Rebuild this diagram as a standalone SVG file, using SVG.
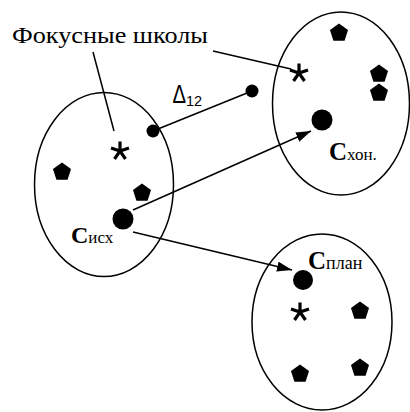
<svg xmlns="http://www.w3.org/2000/svg" xmlns:xlink="http://www.w3.org/1999/xlink" width="410" height="412" viewBox="0 0 410 412">
<style>
.ell{fill:none;stroke:#000;stroke-width:1.5}
.ln{fill:none;stroke:#000;stroke-width:1.5}
.serif{font-family:"Liberation Serif","Times New Roman",serif;fill:#000}
.sans{font-family:"Liberation Sans",Arial,sans-serif;fill:#000}
.star{fill:none;stroke:#000;stroke-width:3.2}
</style>
<defs>
<path id="pent" d="M0,-9.5 L9.04,-2.94 L5.58,7.69 L-5.58,7.69 L-9.04,-2.94 Z" fill="#000"/>
<path id="star" class="star" d="M0,-9.5 V0 M-9,-3 L0,0 L9,-3 M-5.5,8 L0,0 L5.5,8"/>
<marker id="arr" markerWidth="16" markerHeight="12" refX="15" refY="5" orient="auto" markerUnits="userSpaceOnUse">
<path d="M0,0 L15,5 L0,10 Z" fill="#000"/>
</marker>
</defs>
<rect width="410" height="412" fill="#fff"/>
<g id="set-left">
<ellipse class="ell" cx="104" cy="184.5" rx="69.5" ry="92"/>
<use xlink:href="#star" x="120" y="151"/>
<use xlink:href="#pent" x="62" y="172"/>
<use xlink:href="#pent" x="142" y="193"/>
<circle cx="123" cy="219" r="10.5" fill="#000"/>
<text class="serif" x="71" y="243" font-size="24" font-weight="bold">C<tspan font-size="17" font-weight="normal">исх</tspan></text>
</g>
<g id="set-top-right">
<ellipse class="ell" cx="341" cy="103.5" rx="68.5" ry="91.5"/>
<use xlink:href="#star" x="299" y="73"/>
<use xlink:href="#pent" x="339" y="33"/>
<use xlink:href="#pent" x="379" y="74"/>
<use xlink:href="#pent" x="379" y="93"/>
<circle cx="322" cy="120" r="10.5" fill="#000"/>
<text class="serif" x="329" y="160" font-size="25" font-weight="bold">C<tspan font-size="17" font-weight="normal">хон.</tspan></text>
</g>
<g id="set-bottom-right">
<ellipse class="ell" cx="322" cy="322" rx="70" ry="88"/>
<circle cx="303" cy="280" r="10" fill="#000"/>
<text class="serif" x="308" y="269" font-size="25" font-weight="bold">C<tspan font-size="18" font-weight="normal">план</tspan></text>
<use xlink:href="#star" x="300" y="312"/>
<use xlink:href="#pent" x="360" y="311"/>
<use xlink:href="#pent" x="300" y="374"/>
<use xlink:href="#pent" x="360" y="368"/>
</g>
<g id="label-focus">
<text class="serif" x="12" y="43" font-size="23" textLength="196" lengthAdjust="spacingAndGlyphs">Фокусные школы</text>
</g>
<g id="label-delta">
<text class="sans" font-size="26" transform="translate(172.5,103) scale(0.78,1)">Δ</text>
<text class="sans" x="186" y="106" font-size="14.5">12</text>
</g>
<g id="connectors">
<line class="ln" x1="93" y1="52" x2="114" y2="131"/>
<line class="ln" x1="213" y1="51" x2="291" y2="69"/>
<circle cx="153" cy="131" r="6.5" fill="#000"/>
<circle cx="252" cy="91" r="6.5" fill="#000"/>
<line class="ln" x1="153" y1="131" x2="252" y2="91"/>
<line class="ln" x1="133" y1="210" x2="311" y2="131" marker-end="url(#arr)"/>
<line class="ln" x1="133" y1="232" x2="292" y2="270" marker-end="url(#arr)"/>
</g>
</svg>
